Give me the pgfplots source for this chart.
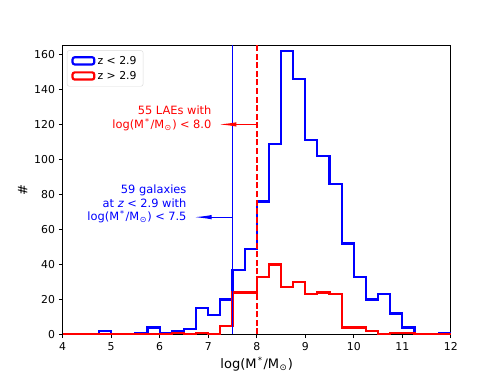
\documentclass[border=0pt]{standalone}
\usepackage{pgfplots}
\pgfplotsset{compat=1.18}
\usepackage{fontspec}
\setmainfont{DejaVu Sans}
\usetikzlibrary{arrows.meta}

\newcommand{\msun}{M\kern0.4pt\textsubscript{⊙}\kern0.4pt}
\newcommand{\mstar}{M\kern1pt\textsuperscript{*}\kern0.8pt}
\newcommand{\lt}{\hspace{0.3em}<\hspace{0.3em}}
\pgfplotsset{histleg/.style={legend image code/.code={%
    \draw[##1] (0pt,-3.3pt) rectangle (20pt,3.3pt);}}}

\begin{document}
\begin{tikzpicture}
\useasboundingbox (-57.6pt,-38pt) rectangle (403.2pt,307.6pt);
\begin{axis}[
    scale only axis,
    width=357.1pt, height=266.1pt,
    xmin=4, xmax=12, ymin=0, ymax=165.3,
    xtick={4,5,...,12}, ytick={0,20,...,160},
    tick pos=left, tick align=outside,
    major tick length=3.5pt,
    every tick/.style={black, line width=0.8pt},
    axis line style={line width=0.8pt},
    font=\fontsize{10}{12}\selectfont,
    /pgf/number format/assume math mode=true,
    xlabel={log(\mstar/\msun)},
    ylabel={\#},
    xlabel style={at={(axis description cs:0.5,-0.1026)}, anchor=center,
        font=\fontsize{12}{14}\selectfont},
    ylabel style={at={(axis description cs:-0.1028,0.5)}, anchor=center,
        font=\fontsize{12}{14}\selectfont},
    legend style={at={(0.011,0.982)}, anchor=north west,
        draw=black!15, rounded corners=2pt, fill=white, fill opacity=0.8,
        text opacity=1, font=\fontsize{10}{12}\selectfont,
        inner xsep=4pt, inner ysep=3pt, row sep=1pt},
    legend cell align=left,
]
    % z < 2.9, counts per 0.25 bin (left edges)
    \addplot[blue, line width=2pt, const plot, histleg]
    coordinates {
        (4,0) (4.25,0) (4.5,0) (4.75,2) (5,0) (5.25,0) (5.5,1) (5.75,4)
        (6,1) (6.25,2) (6.5,3) (6.75,15) (7,11) (7.25,20) (7.5,37) (7.75,49)
        (8,76) (8.25,109) (8.5,162) (8.75,146) (9,111) (9.25,102) (9.5,86) (9.75,52)
        (10,33) (10.25,20) (10.5,23) (10.75,12) (11,4) (11.25,0) (11.5,0) (11.75,1)
        (12,1) (12,0)
    };
    \addlegendentry{z < 2.9}

    % z > 2.9
    \addplot[red, line width=2pt, const plot, histleg]
    coordinates {
        (4,0) (4.25,0) (4.5,0) (4.75,0) (5,0) (5.25,0) (5.5,0) (5.75,0)
        (6,0) (6.25,1) (6.5,0) (6.75,1) (7,0) (7.25,5) (7.5,24) (7.75,24)
        (8,33) (8.25,40) (8.5,27) (8.75,30) (9,23) (9.25,24) (9.5,23) (9.75,4)
        (10,4) (10.25,2) (10.5,0) (10.75,1) (11,1) (11.25,0) (11.5,0) (11.75,0)
        (12,0)
    };
    \addlegendentry{z > 2.9}

    % mass cuts
    \addplot[blue, line width=1.7pt, forget plot] coordinates {(7.5,0) (7.5,165.3)};
    \addplot[red, line width=1.5pt, dash pattern=on 5.5pt off 2.4pt, forget plot]
        coordinates {(8,0) (8,165.3)};

    \draw[red, line width=1.2pt, -{Latex[length=17pt, width=4pt]}]
        (axis cs:8,120) -- (axis cs:7.2,120);
    \draw[blue, line width=1.2pt, -{Latex[length=17pt, width=4pt]}]
        (axis cs:7.5,67) -- (axis cs:6.69,67);

    \node[red, anchor=east, align=right, inner sep=0pt,
        font=\fontsize{10.5}{12.5}\selectfont]
        at (axis cs:7.07,123.4) {55 LAEs with\\log(\mstar/\msun)\lt8.0};
    \node[blue, anchor=east, align=right, inner sep=0pt,
        font=\fontsize{10.5}{12.5}\selectfont]
        at (axis cs:6.556,74.5) {59 galaxies\\at \textit{z}\lt2.9 with\\log(\mstar/\msun)\lt7.5};
\end{axis}
\end{tikzpicture}
\end{document}
